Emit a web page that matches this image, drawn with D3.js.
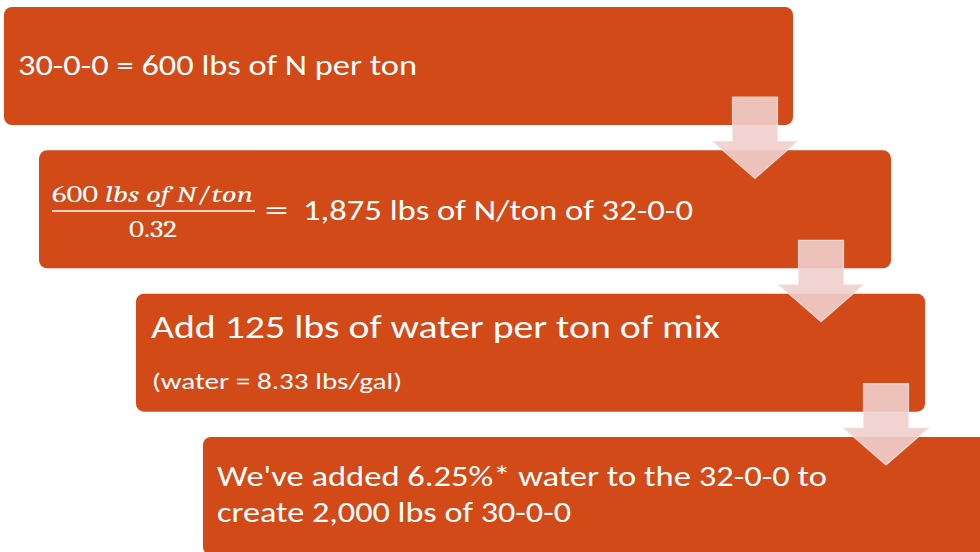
<!DOCTYPE html>
<html>
<head>
<meta charset="utf-8">
<script src="https://cdn.jsdelivr.net/npm/d3@7"></script>
<style>
  html, body { margin: 0; padding: 0; background: #fff; }
  svg { display: block; }
</style>
</head>
<body>
<div id="chart"></div>
<script>
// contenido de cada paso
const pasos = ["paso1", "paso2", "paso3", "paso4"];
const lineasPaso1 = ["30-0-0 = 600 lbs of N per ton"];
const fraccionNum = [
  { t: "600 ", it: false },
  { t: "lbs of N", it: true },
  { t: "/", it: false },
  { t: "ton", it: true }
];
const fraccionDen = ["0.32"];
const lineasPaso2 = ["1,875 lbs of N/ton of 32-0-0"];
const lineasPaso3 = ["Add 125 lbs of water per ton of mix", "(water = 8.33 lbs/gal)"];
const lineasPaso4 = ["We've added 6.25%* water to the 32-0-0 to", "create 2,000 lbs of 30-0-0"];

// layout (px)
const W = 980, H = 552;
const cajaX0 = [4, 39, 136, 203];
const cajaX1 = [793, 891, 925, 1010];
const cajaAlto = 118;
const flechaCx = [755, 821, 886];

const color = "#D24A18";
const fuente = "Carlito, Calibri, Lato, 'Open Sans', sans-serif";
const fuenteMath = "'Cambria Math', Cambria, 'Liberation Serif', 'DejaVu Serif', serif";

const svg = d3.select("#chart").append("svg")
  .attr("width", W).attr("height", H);

const y = d3.scaleLinear().domain([0, 3]).range([7, 437]);

// cajas
svg.append("g").selectAll("rect")
  .data(pasos)
  .enter()
  .append("rect")
  .attr("x", (d, i) => cajaX0[i])
  .attr("y", (d, i) => y(i))
  .attr("width", (d, i) => cajaX1[i] - cajaX0[i])
  .attr("height", cajaAlto)
  .attr("rx", 8).attr("ry", 8)
  .style("fill", color);

// flechas
const flecha = (cx, top, tip) => {
  const sw = 22.5, hw = 42.5, hh = 37;
  return `M${cx - sw},${top} L${cx + sw},${top} L${cx + sw},${tip - hh} L${cx + hw},${tip - hh}
          L${cx},${tip} L${cx - hw},${tip - hh} L${cx - sw},${tip - hh} Z`;
};
svg.append("g").selectAll("path")
  .data(flechaCx)
  .enter()
  .append("path")
  .attr("d", (d, i) => flecha(d, y(i) + cajaAlto - 28, y(i + 1) + 28))
  .style("fill", "#EFCFCD")
  .style("fill-opacity", 0.9)
  .style("stroke", "#F8E6E4")
  .style("stroke-opacity", 0.8)
  .style("stroke-width", 1.2);

// texto con alto de letra dado y ancho forzado
const texto = (g, s, x, yb, ancho, size, fam) => {
  const t = g.append("text")
    .attr("x", x).attr("y", yb)
    .style("font-family", fam || fuente)
    .style("font-size", size + "px")
    .style("fill", "#fff")
    .text(s);
  if (ancho) {
    t.attr("textLength", ancho).attr("lengthAdjust", "spacingAndGlyphs");
  }
  return t;
};

const capa = svg.append("g");

// paso 1
texto(capa, lineasPaso1[0], 18, 75, 399, 28);

// paso 2: fraccion
const num = capa.append("text")
  .attr("x", 52).attr("y", 202)
  .attr("textLength", 201).attr("lengthAdjust", "spacingAndGlyphs")
  .style("font-family", fuenteMath)
  .style("font-size", "23px")
  .style("fill", "#fff");
num.selectAll("tspan")
  .data(fraccionNum)
  .enter()
  .append("tspan")
  .style("font-style", d => d.it ? "italic" : "normal")
  .text(d => d.t);

capa.append("line")
  .attr("x1", 52).attr("x2", 255)
  .attr("y1", 211).attr("y2", 211)
  .style("stroke", "#fff").style("stroke-width", 1.6);

texto(capa, fraccionDen[0], 129, 237, 48, 23, fuenteMath);

texto(capa, "=", 264, 220, 25, 34, fuenteMath);
texto(capa, lineasPaso2[0], 303, 220, 390, 28);

// paso 3
texto(capa, lineasPaso3[0], 151, 338, 569, 33);
texto(capa, lineasPaso3[1], 152, 389, 250, 22.5);

// paso 4
texto(capa, lineasPaso4[0], 217, 486, 610, 29.5);
texto(capa, lineasPaso4[1], 217, 522, 354, 29.5);
</script>
</body>
</html>
